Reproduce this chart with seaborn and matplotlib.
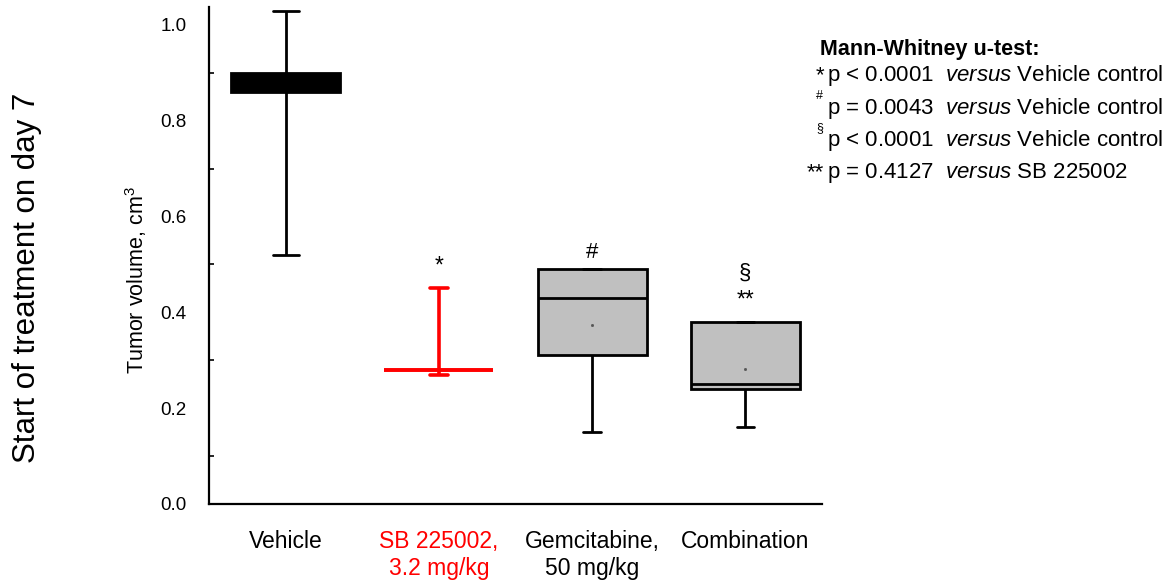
import numpy as np
import pandas as pd
import matplotlib
matplotlib.use("Agg")
import matplotlib.pyplot as plt
from matplotlib.ticker import MultipleLocator
import seaborn as sns

# ---- data (five-number summaries: min, Q1, median, Q3, max)
categories = ["Vehicle", "SB 225002,\n3.2 mg/kg", "Gemcitabine,\n50 mg/kg", "Combination"]
vehicle = [0.52, 0.86, 0.88, 0.90, 1.03]
sb225002 = [0.27, 0.28, 0.28, 0.28, 0.45]
gemcitabine = [0.15, 0.31, 0.43, 0.49, 0.49]
combination = [0.16, 0.24, 0.25, 0.38, 0.38]
y_ticks = [0.0, 0.2, 0.4, 0.6, 0.8, 1.0]
legend_title = "Mann-Whitney u-test:"
legend_symbols = ["*", "#", "§", "**"]
legend_p = ["p < 0.0001", "p = 0.0043", "p < 0.0001", "p = 0.4127"]
legend_ref = ["Vehicle control", "Vehicle control", "Vehicle control", "SB 225002"]

df = pd.DataFrame({
    "group": np.repeat(categories, 5),
    "value": vehicle + sb225002 + gemcitabine + combination,
})
palette = {categories[0]: "black", categories[1]: "white",
           categories[2]: "#C0C0C0", categories[3]: "#C0C0C0"}

sns.set_style("white")
plt.rcParams["font.family"] = ["Liberation Sans", "DejaVu Sans"]
plt.rcParams["mathtext.fontset"] = "custom"
plt.rcParams["mathtext.rm"] = "Liberation Sans"
plt.rcParams["mathtext.it"] = "Liberation Sans:italic"
plt.rcParams["mathtext.bf"] = "Liberation Sans:bold"
for k in ["text.color", "axes.labelcolor", "xtick.color", "ytick.color",
          "axes.edgecolor"]:
    plt.rcParams[k] = "black"

fig = plt.figure(figsize=(11.69, 5.85), dpi=100)
ax = fig.add_axes([0.1788, 0.1385, 0.5244, 0.8496])

sns.boxplot(data=df, x="group", y="value", hue="group", order=categories,
            hue_order=categories, palette=palette, saturation=1, whis=(0, 100),
            width=0.71, linecolor="black", linewidth=2.0, showfliers=False,
            showmeans=True, capwidths=0.115, legend=False, dodge=False,
            meanprops=dict(marker="s", markersize=1.0, markerfacecolor="#555555",
                           markeredgecolor="#555555"),
            ax=ax)

# restyle artists per category, found by their x position
for ln in ax.lines:
    x = np.asarray(ln.get_xdata(), dtype=float)
    y = np.asarray(ln.get_ydata(), dtype=float)
    if x.size == 0:
        continue
    c = np.nanmean(x)
    is_marker = ln.get_marker() not in (None, "None", "", " ")
    if abs(c - 0) < 0.4:
        if is_marker:
            ln.set_visible(False)
        elif x.size == 2 and np.allclose(y[0], y[1]) and (x.max() - x.min()) < 0.3:
            # vehicle caps are wider
            ln.set_xdata([c - 0.085, c + 0.085])
    elif abs(c - 1) < 0.4:
        if is_marker:
            ln.set_visible(False)
        else:
            ln.set_color("red")
            ln.set_linewidth(2.6)
            ln.set_zorder(5)
for p in ax.patches:
    verts = p.get_path().vertices
    if verts.size and abs(np.nanmean(verts[:, 0]) - 1) < 0.4:
        p.set_facecolor("none")
        p.set_edgecolor("red")
        p.set_linewidth(2.6)
        p.set_zorder(5)

ax.set_xlim(-0.5, 3.5)
ax.set_ylim(0, 1.0376)
ax.set_yticks(y_ticks)
ax.set_yticklabels([f"{t:.1f}" for t in y_ticks])
ax.yaxis.set_minor_locator(MultipleLocator(0.1))
ax.set_xlabel("")
ax.set_ylabel("Tumor volume, cm$^3$", fontsize=15.5)
ax.yaxis.set_label_coords(-0.098, 0.45)

for s in ["top", "right"]:
    ax.spines[s].set_visible(False)
for s in ["left", "bottom"]:
    ax.spines[s].set_linewidth(1.6)
    ax.spines[s].set_color("black")

ax.tick_params(axis="y", which="major", direction="out", length=7, width=1.5,
               labelsize=13.5, pad=9, colors="black")
ax.tick_params(axis="y", which="minor", direction="in", length=3.5, width=1.2,
               left=True)
ax.tick_params(axis="x", which="major", direction="in", length=2.5, width=1,
               labelsize=16.5, pad=19, colors="black")
for lbl in ax.get_xticklabels():
    lbl.set_color("black")
ax.get_xticklabels()[1].set_color("red")

# significance marks above boxes
ax.text(1, 0.484, "*", ha="center", va="baseline", fontsize=16.5)
ax.text(2, 0.514, "#", ha="center", va="baseline", fontsize=16)
ax.text(3, 0.470, "§", ha="center", va="baseline", fontsize=16)
ax.text(3, 0.413, "**", ha="center", va="baseline", fontsize=16.5)

# side label
fig.text(27 / 1169, 1 - 278 / 585, "Start of treatment on day 7", rotation=90,
         ha="center", va="center", fontsize=22.5)

# statistics legend
W, H = 1169, 585
fig.text(820 / W, 1 - 55 / H, legend_title, fontsize=15.5, fontweight="bold",
         ha="left", va="baseline")
baselines = [81, 114, 146, 178]
for sym, p, ref, yb in zip(legend_symbols, legend_p, legend_ref, baselines):
    if sym in ("#", "§"):
        fig.text(823 / W, 1 - (yb - 24) / H, sym, fontsize=9, ha="right",
                 va="top")
    else:
        fig.text(824 / W, 1 - yb / H, sym, fontsize=16, ha="right",
                 va="baseline")
    fig.text(827 / W, 1 - yb / H, p + r"  $\mathit{versus}$ " + ref,
             fontsize=16, ha="left", va="baseline")

fig.savefig("out.png", dpi=100)
